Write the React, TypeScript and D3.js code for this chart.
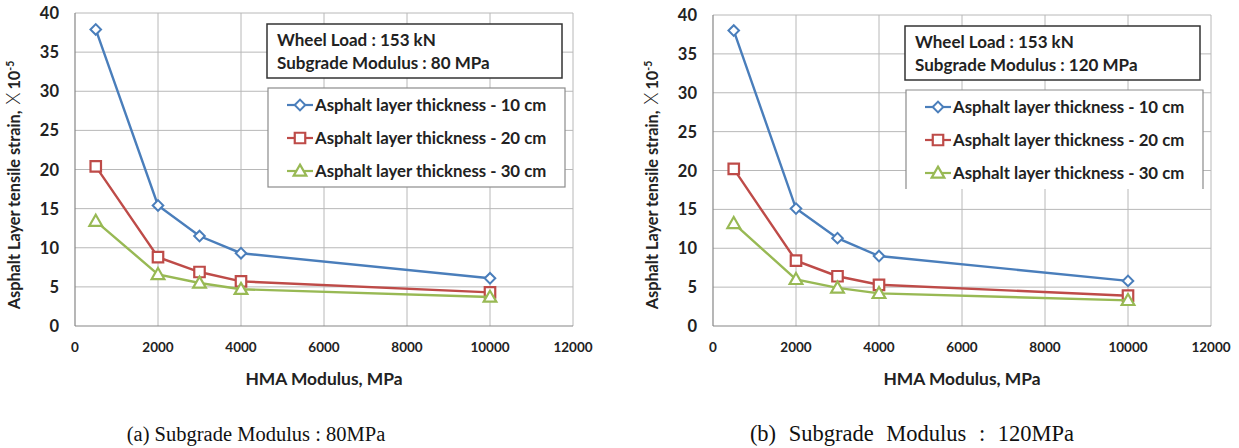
import React from 'react';
import * as d3 from 'd3';

// HMA modulus values (MPa)
const modulus = [500, 2000, 3000, 4000, 10000];

// strain x 10^-5, subgrade 80 MPa
const strain80_10 = [37.9, 15.4, 11.5, 9.3, 6.1];
const strain80_20 = [20.4, 8.8, 6.9, 5.7, 4.3];
const strain80_30 = [13.4, 6.6, 5.5, 4.7, 3.7];

// strain x 10^-5, subgrade 120 MPa
const strain120_10 = [38.0, 15.1, 11.3, 9.0, 5.8];
const strain120_20 = [20.2, 8.4, 6.4, 5.3, 3.9];
const strain120_30 = [13.2, 6.0, 4.9, 4.2, 3.3];

const seriesNames = [
  'Asphalt layer thickness - 10 cm',
  'Asphalt layer thickness - 20 cm',
  'Asphalt layer thickness - 30 cm',
];
const seriesColors = ['#4a7ebb', '#be4b48', '#98b954'];
const seriesMarkers = ['diamond', 'square', 'triangle'];

const xTicks = [0, 2000, 4000, 6000, 8000, 10000, 12000];
const yTicks = [0, 5, 10, 15, 20, 25, 30, 35, 40];

const font = 'Lato, "Open Sans", sans-serif';

const Marker = ({ type, x, y, color }) => {
  if (type === 'diamond') {
    const p = d3.symbol(d3.symbolSquare, 56)();
    return <path d={p} transform={`translate(${x},${y}) rotate(45)`} fill="#fff" stroke={color} strokeWidth={2} />;
  }
  if (type === 'square') {
    const p = d3.symbol(d3.symbolSquare, 110)();
    return <path d={p} transform={`translate(${x},${y})`} fill="#fff" stroke={color} strokeWidth={2.2} />;
  }
  const p = d3.symbol(d3.symbolTriangle, 70)();
  return <path d={p} transform={`translate(${x},${y + 1})`} fill="#fff" stroke={color} strokeWidth={2.2} />;
};

const Panel = ({ left, top, series, subgrade, caption, captionX, captionSize, wordGap, openLegend }) => {
  const w = 498;
  const x = d3.scaleLinear().domain([0, 12000]).range([left, left + w]);
  const y = d3.scaleLinear().domain([0, 40]).range([326, top]);
  const line = d3.line<number>().x((_, i) => x(modulus[i])).y((d) => y(d));

  const infoX = left + 192;
  const infoY = top + 11;
  const legY = infoY + 64;

  return (
    <g>
      {/* grid */}
      {xTicks.slice(1).map((t) => (
        <line key={'gx' + t} x1={x(t)} x2={x(t)} y1={top} y2={326} stroke="#b8b8b8" strokeWidth={1} />
      ))}
      {yTicks.slice(1).map((t) => (
        <line key={'gy' + t} x1={left} x2={left + w} y1={y(t)} y2={y(t)} stroke="#b8b8b8" strokeWidth={1} />
      ))}
      {/* axes */}
      <line x1={left} x2={left} y1={top} y2={326} stroke="#868686" strokeWidth={1.2} />
      <line x1={left} x2={left + w} y1={326} y2={326} stroke="#868686" strokeWidth={1.2} />

      {yTicks.map((t) => (
        <text key={'ty' + t} x={left - 16} y={y(t) + 6} textAnchor="end" fontFamily={font} fontWeight="bold" fontSize={16.5} fill="#222">
          {t}
        </text>
      ))}
      {xTicks.map((t) => (
        <text key={'tx' + t} x={x(t)} y={352} textAnchor="middle" fontFamily={font} fontWeight="bold" fontSize={13.5} fill="#222">
          {t}
        </text>
      ))}

      <text x={left + w / 2} y={385} textAnchor="middle" fontFamily={font} fontWeight="bold" fontSize={17.4} fill="#222">
        HMA Modulus, MPa
      </text>
      <text
        transform={`translate(${left - 55},${185}) rotate(-90)`}
        textAnchor="middle"
        fontFamily={font}
        fontWeight="bold"
        fontSize={16.3}
        fill="#222"
      >
        Asphalt Layer tensile strain,
        <tspan fontWeight="300" fontSize={19} dx={6}>X</tspan>
        <tspan dx={3}>10</tspan>
        <tspan fontSize={10.5} dy={-6}>-5</tspan>
      </text>

      {/* info box */}
      <rect x={infoX} y={infoY} width={295} height={54} fill="#fff" stroke="#333" strokeWidth={1.5} />
      <text x={infoX + 10} y={infoY + 22} fontFamily={font} fontWeight="bold" fontSize={17} fill="#222">
        Wheel Load : 153 kN
      </text>
      <text x={infoX + 10} y={infoY + 45} fontFamily={font} fontWeight="bold" fontSize={17} fill="#222">
        Subgrade Modulus : {subgrade} MPa
      </text>

      {/* series */}
      {series.map((s, si) => (
        <g key={'s' + si}>
          <path d={line(s)} fill="none" stroke={seriesColors[si]} strokeWidth={2.4} />
          {s.map((v, i) => (
            <Marker key={i} type={seriesMarkers[si]} x={x(modulus[i])} y={y(v)} color={seriesColors[si]} />
          ))}
        </g>
      ))}

      {/* legend */}
      <rect x={infoX + 1} y={legY} width={297} height={99} fill="#fff" stroke="none" />
      {openLegend ? (
        <path
          d={`M${infoX + 1},${legY + 99}V${legY}H${infoX + 298}V${legY + 99}`}
          fill="none"
          stroke="#8c8c8c"
          strokeWidth={1.2}
        />
      ) : (
        <rect x={infoX + 1} y={legY} width={297} height={99} fill="none" stroke="#8c8c8c" strokeWidth={1.2} />
      )}
      {seriesNames.map((n, i) => {
        const ly = legY + 17 + i * 33;
        return (
          <g key={'l' + i}>
            <line x1={infoX + 20} x2={infoX + 46} y1={ly} y2={ly} stroke={seriesColors[i]} strokeWidth={2.2} />
            <Marker type={seriesMarkers[i]} x={infoX + 33} y={ly} color={seriesColors[i]} />
            <text x={infoX + 48} y={ly + 6} fontFamily={font} fontWeight="bold" fontSize={16.8} fill="#222">
              {n}
            </text>
          </g>
        );
      })}

      <text
        x={captionX}
        y={441}
        textAnchor="middle"
        wordSpacing={wordGap}
        fontFamily='"Liberation Serif", "Times New Roman", serif'
        fontSize={captionSize}
        fill="#111"
      >
        {caption}
      </text>
    </g>
  );
};

export default function App() {
  return (
    <svg width={1239} height={448} style={{ position: 'absolute', left: 0, top: 0, background: '#fff' }}>
      <Panel
        left={75}
        top={13}
        series={[strain80_10, strain80_20, strain80_30]}
        subgrade={80}
        caption="(a) Subgrade Modulus : 80MPa"
        captionX={256}
        captionSize={20.5}
        wordGap={0}
        openLegend={false}
      />
      <Panel
        left={713}
        top={15}
        series={[strain120_10, strain120_20, strain120_30]}
        subgrade={120}
        caption="(b) Subgrade Modulus : 120MPa"
        captionX={912}
        captionSize={22.5}
        wordGap={7}
        openLegend={true}
      />
    </svg>
  );
}
